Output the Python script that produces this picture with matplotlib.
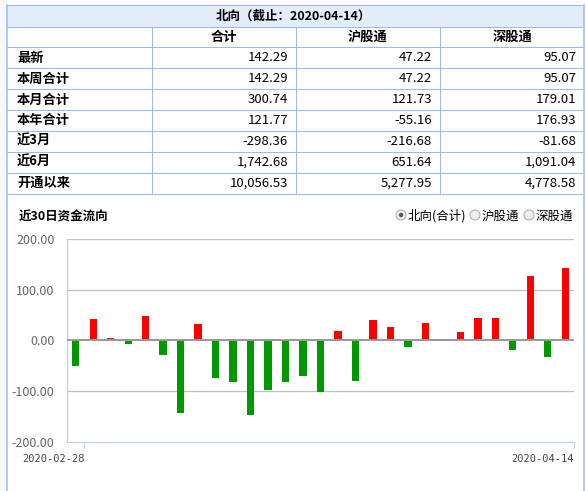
import numpy as np
import matplotlib
matplotlib.use("Agg")
import matplotlib.pyplot as plt
from matplotlib.patches import Rectangle, Circle

plt.rcParams['font.family'] = ['Noto Sans CJK SC', 'DejaVu Sans']

#------------------------------------------------------------------
TITLE = "北向（截止：2020-04-14）"
COLUMNS = ["合计", "沪股通", "深股通"]
ROW_NAMES = ["最新", "本周合计", "本月合计", "本年合计", "近3月", "近6月", "开通以来"]
TOTAL = ["142.29", "142.29", "300.74", "121.77", "-298.36", "1,742.68", "10,056.53"]
SH = ["47.22", "47.22", "121.73", "-55.16", "-216.68", "651.64", "5,277.95"]
SZ = ["95.07", "95.07", "179.01", "176.93", "-81.68", "1,091.04", "4,778.58"]

CHART_TITLE = "近30日资金流向"
OPTIONS = ["北向(合计)", "沪股通", "深股通"]
dates = ["2020-02-28", "2020-03-02", "2020-03-03", "2020-03-04", "2020-03-05",
         "2020-03-06", "2020-03-09", "2020-03-10", "2020-03-11", "2020-03-12",
         "2020-03-13", "2020-03-16", "2020-03-17", "2020-03-18", "2020-03-19",
         "2020-03-20", "2020-03-23", "2020-03-24", "2020-03-25", "2020-03-26",
         "2020-03-27", "2020-03-30", "2020-03-31", "2020-04-01", "2020-04-02",
         "2020-04-03", "2020-04-07", "2020-04-08", "2020-04-14"]
flows = [-50.7, 41.5, 4.2, -7.0, 47.5, -28.8, -144.0, 31.8, -74.5, -82.4,
         -148.0, -98.7, -82.4, -70.5, -102.4, 18.0, -80.5, 39.7, 25.9, -13.0,
         33.8, -1.5, 16.0, 43.6, 43.6, -19.0, 126.2, -32.8, 142.29]
#------------------------------------------------------------------

W, H = 586, 491
BORDER = '#99BBEE'
PX = 0.72

fig = plt.figure(figsize=(W / 100, H / 100), dpi=100)
bg = fig.add_axes([0, 0, 1, 1])
bg.set_xlim(0, W)
bg.set_ylim(H, 0)
bg.axis('off')
bg.add_patch(Rectangle((0, 0), 6.5, H, facecolor='#F6F8FC', edgecolor='none'))

# table
col_x = [7, 152, 296, 440, 584]
row_y = [5, 26.5, 47.3, 68.3, 89.3, 110, 130.7, 151.7, 172.7, 193.5]
bg.add_patch(Rectangle((7, 5), 577, 21.5, facecolor='#E3ECF9', edgecolor='none'))
for y in row_y:
    bg.plot([7, 584], [y, y], color=BORDER, lw=PX)
for x in col_x[1:-1]:
    bg.plot([x, x], [row_y[1], row_y[-1]], color=BORDER, lw=PX)
bg.plot([7, 7], [5, H], color=BORDER, lw=PX * 1.5)
bg.plot([584, 584], [5, H], color=BORDER, lw=PX * 1.5)

bg.text(293, 16, TITLE, ha='center', va='center', fontsize=9, fontweight='bold')
for i, c in enumerate(COLUMNS):
    bg.text((col_x[i + 1] + col_x[i + 2]) / 2, 37, c, ha='center', va='center',
            fontsize=9.5, fontweight='bold')
for r, name in enumerate(ROW_NAMES):
    yc = (row_y[r + 2] + row_y[r + 3]) / 2
    bg.text(17, yc, name, ha='left', va='center', fontsize=9.5, fontweight='bold')
    for j, vals in enumerate([TOTAL, SH, SZ]):
        bg.text(col_x[j + 2] - 8, yc, vals[r], ha='right', va='center', fontsize=9.5)

# chart header
bg.text(19, 217, CHART_TITLE, ha='left', va='center', fontsize=9, fontweight='bold')
radio_x = [401, 475, 529]
for i, (rx, opt) in enumerate(zip(radio_x, OPTIONS)):
    bg.add_patch(Circle((rx, 215), 5, facecolor='#EEEEEE', edgecolor='#AAAAAA', lw=PX))
    if i == 0:
        bg.add_patch(Circle((rx, 215), 2.2, facecolor='#555555', edgecolor='none'))
    bg.text(rx + 7, 216, opt, ha='left', va='center', fontsize=9)

# chart
left, right, top, bottom = 67, 574, 239, 441.7
ax = fig.add_axes([left / W, 1 - bottom / H, (right - left) / W, (bottom - top) / H])
x = np.arange(len(flows))
colors = ['#FF0000' if v >= 0 else '#009900' for v in flows]
ax.bar(x, flows, width=0.42, color=colors, zorder=3)
ax.set_xlim(-0.5, len(flows) - 0.5)
ax.set_ylim(-200, 200)
for v in [200, 100, -100]:
    ax.axhline(v, color='#C0C0C0', lw=PX * 1.3, zorder=1)
ax.axhline(0, color='#999999', lw=PX * 2, zorder=4)
for s in ['top', 'right']:
    ax.spines[s].set_visible(False)
for s in ['left', 'bottom']:
    ax.spines[s].set_color('#C0D0E0')
    ax.spines[s].set_linewidth(PX * 1.3)
ax.set_yticks([-200, -100, 0, 100, 200])
ax.set_yticklabels(["%.2f" % v for v in [-200, -100, 0, 100, 200]])
ax.tick_params(axis='y', length=0, pad=9, labelsize=9, labelcolor='#666666')
ax.set_xticks([0.5, len(flows) - 0.5])
ax.set_xticklabels([dates[0], dates[-1]], fontfamily='DejaVu Sans Mono', fontsize=7.5,
                   color='#444444', ha='right')
ax.tick_params(axis='x', length=4, color='#C0D0E0', pad=5)

plt.savefig("out.png", dpi=100)
